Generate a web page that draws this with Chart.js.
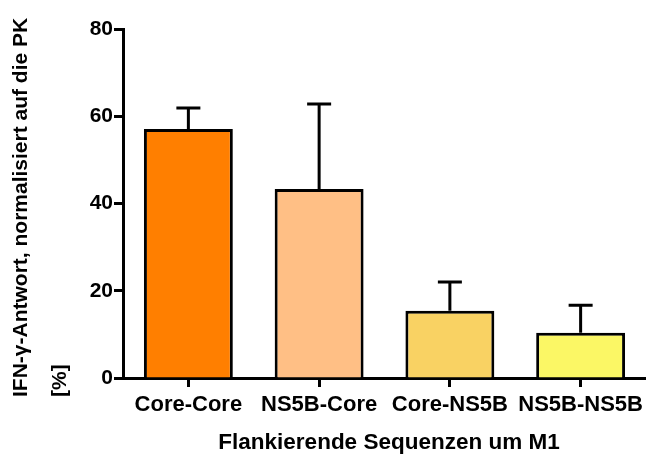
<!DOCTYPE html>
<html>
<head>
<meta charset="utf-8">
<script src="https://cdn.jsdelivr.net/npm/chart.js@4"></script>
<style>
  html, body { margin: 0; padding: 0; background: #fff; }
  #wrap { width: 646px; height: 456px; position: relative; }
</style>
</head>
<body>
<div id="wrap"><canvas id="chartCanvas"></canvas></div>
<script>
const categories = ["Core-Core", "NS5B-Core", "Core-NS5B", "NS5B-NS5B"];
const meanValues = [57.1, 43.3, 15.4, 10.4];
const errorValues = [4.8, 19.5, 6.6, 6.3];
const barColors = ["#FF7F00", "#FFBF85", "#F9D263", "#FBF765"];
const yTicks = [0, 20, 40, 60, 80];
const yTitleLines = ["IFN-\u03b3-Antwort, normalisiert auf die PK", "[%]"];
const xTitle = "Flankierende Sequenzen um M1";

const FONT = '"Liberation Sans", Arial, sans-serif';

// upward error bars, only the + side like in the original
const errorBarPlugin = {
  id: "errorBars",
  afterDatasetsDraw(chart) {
    const ctx = chart.ctx;
    const meta = chart.getDatasetMeta(0);
    const yScale = chart.scales.y;
    ctx.save();
    ctx.strokeStyle = "#000";
    ctx.lineWidth = 3;
    meta.data.forEach((bar, i) => {
      const top = yScale.getPixelForValue(meanValues[i] + errorValues[i]);
      const base = yScale.getPixelForValue(meanValues[i]);
      ctx.beginPath();
      ctx.moveTo(bar.x, base);
      ctx.lineTo(bar.x, top);
      ctx.moveTo(bar.x - 12, top);
      ctx.lineTo(bar.x + 12, top);
      ctx.stroke();
    });
    ctx.restore();
  }
};

const titlePlugin = {
  id: "axisTitles",
  afterDraw(chart) {
    const ctx = chart.ctx;
    ctx.save();
    ctx.fillStyle = "#000";
    ctx.font = "bold 21px " + FONT;
    // y title, rotated, left aligned from the bottom
    ctx.translate(21, 397);
    ctx.rotate(-Math.PI / 2);
    ctx.textAlign = "left";
    ctx.textBaseline = "middle";
    ctx.fillText(yTitleLines[0], 0, 0);
    ctx.fillText(yTitleLines[1], 0, 39);
    ctx.restore();

    ctx.save();
    ctx.fillStyle = "#000";
    ctx.font = "bold 22.5px " + FONT;
    ctx.textAlign = "center";
    ctx.textBaseline = "middle";
    ctx.fillText(xTitle, 389, 443);
    ctx.restore();
  }
};

new Chart(document.getElementById("chartCanvas"), {
  type: "bar",
  data: {
    labels: categories,
    datasets: [{
      data: meanValues,
      backgroundColor: barColors,
      borderColor: "#000",
      borderWidth: 3,
      borderSkipped: "bottom",
      barPercentage: 0.68,
      categoryPercentage: 1
    }]
  },
  options: {
    responsive: true,
    maintainAspectRatio: false,
    animation: false,
    devicePixelRatio: 1,
    layout: { padding: { top: 29, right: 0, bottom: 0, left: 0 } },
    plugins: {
      legend: { display: false },
      tooltip: { enabled: false }
    },
    scales: {
      x: {
        offset: true,
        grid: {
          display: true,
          offset: false,
          drawOnChartArea: false,
          drawTicks: true,
          tickLength: 9,
          tickWidth: 3,
          tickColor: "#000"
        },
        border: { display: true, color: "#000", width: 3 },
        ticks: {
          color: "#000",
          padding: 5,
          maxRotation: 0,
          autoSkip: false,
          font: { family: FONT, size: 22, weight: "bold" }
        },
        afterFit(scale) {
          scale.height = 78;
          scale.paddingLeft = 0;
          scale.paddingRight = 0;
        }
      },
      y: {
        min: 0,
        max: 80,
        afterBuildTicks(scale) { scale.ticks = yTicks.map(v => ({ value: v })); },
        grid: {
          display: true,
          drawOnChartArea: false,
          drawTicks: true,
          tickLength: 9,
          tickWidth: 3,
          tickColor: "#000"
        },
        border: { display: true, color: "#000", width: 3 },
        ticks: {
          color: "#000",
          padding: 1,
          font: { family: FONT, size: 21, weight: "bold" }
        },
        afterFit(scale) { scale.width = 123; }
      }
    }
  },
  plugins: [errorBarPlugin, titlePlugin]
});
</script>
</body>
</html>
